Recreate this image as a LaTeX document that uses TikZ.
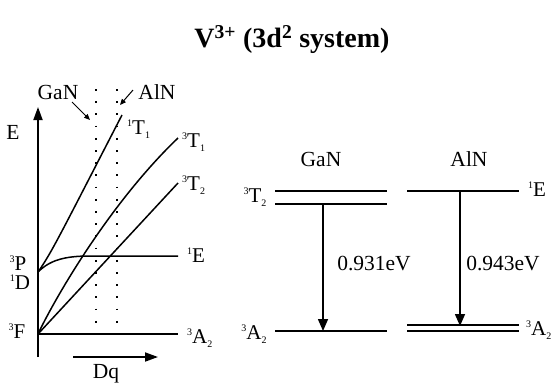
\documentclass[tikz,border=0pt]{standalone}
\usepackage{fontspec}
\setmainfont{Liberation Serif}
\usetikzlibrary{arrows.meta}
\newcommand{\spinterm}[3]{\raisebox{0.4em}{\fontsize{10}{10}\selectfont #1}#2\raisebox{-0.2em}{\fontsize{10}{10}\selectfont #3}}
\tikzset{
  axisline/.style={line width=1.8pt},
  curveline/.style={line width=1.5pt},
  levelline/.style={line width=1.9pt},
  dotline/.style={line width=1.9pt, dash pattern=on 1.7pt off 10.5pt},
  transarrow/.style={line width=1.5pt, -{Triangle[length=12pt,width=10pt]}},
  pointer/.style={line width=1pt, -{Triangle[length=6pt,width=5pt]}},
  lbl/.style={font=\fontsize{21.5}{24}\selectfont, inner sep=0pt},
  statelbl/.style={font=\fontsize{21}{23}\selectfont, inner sep=0pt}
}

\begin{document}
\begin{tikzpicture}[x=1pt, y=-1pt]
  \useasboundingbox (0,0) rectangle (551,384);
  \node[font=\bfseries\fontsize{28}{32}\selectfont] (title) at (292,40) {V\textsuperscript{3+} (3d\textsuperscript{2} system)};

  % left: energy level diagram
  \coordinate (axbot) at (38,357);
  \coordinate (axtop) at (38,107);
  \coordinate (fpt) at (38,334);
  \coordinate (ppt) at (38,272);
  \draw[axisline, -{Triangle[length=13pt,width=9pt]}] (axbot) -- (axtop);
  \node[lbl] (elbl) at (13,132) {E};

  \node[statelbl] (flbl) at (17,333) {\spinterm{3}{F}{}};
  \node[statelbl] (plbl) at (18,265) {\spinterm{3}{P}{}};
  \node[statelbl] (dlbl) at (20,284) {\spinterm{1}{D}{}};

  \node[statelbl, anchor=west] (t1s) at (127,129) {\spinterm{1}{T}{1}};
  \node[statelbl, anchor=west] (t1t) at (182,142) {\spinterm{3}{T}{1}};
  \node[statelbl, anchor=west] (t2t) at (182,185) {\spinterm{3}{T}{2}};
  \node[statelbl, anchor=west] (es) at (187,257) {\spinterm{1}{E}{}};
  \node[statelbl, anchor=west] (a2t) at (187,338) {\spinterm{3}{A}{2}};

  \coordinate (t1send) at (122,115);
  \coordinate (t1tend) at (178,138);
  \coordinate (t2tend) at (178,183);
  \coordinate (esend) at (178,256);
  \coordinate (a2end) at (178,334);

  \draw[curveline] (fpt) -- (a2end);
  \draw[curveline] (fpt) -- (t2tend);
  \draw[curveline] (fpt) .. controls (55,298) and (110,203) .. (t1tend);
  \draw[curveline] (ppt) .. controls (52,252) and (60,235) .. (t1send);
  \draw[curveline] (ppt) .. controls (50,260) and (65,256) .. (90,256) -- (esend);

  % host crystal field positions
  \coordinate (gantop) at (96,89);
  \coordinate (ganbot) at (96,334);
  \coordinate (alntop) at (117,89);
  \coordinate (alnbot) at (117,334);
  \draw[dotline] (gantop) -- (ganbot);
  \draw[dotline] (alntop) -- (alnbot);
  \node[lbl] (ganlbl) at (58,92) {GaN};
  \node[lbl] (alnlbl) at (157,92) {AlN};
  \draw[pointer] (72,102) -- (90,120);
  \draw[pointer] (133,90) -- (120,105);

  \coordinate (dqstart) at (73,357);
  \coordinate (dqend) at (158,357);
  \draw[axisline, -{Triangle[length=13pt,width=9pt]}] (dqstart) -- (dqend);
  \node[lbl] (dqlbl) at (106,374) {Dq};

  % right: transitions
  \node[lbl] (gan) at (321,159) {GaN};
  \node[lbl] (aln) at (469,159) {AlN};

  \coordinate (gtaa) at (275,191);
  \coordinate (gtab) at (387,191);
  \coordinate (gtba) at (275,204);
  \coordinate (gtbb) at (387,204);
  \coordinate (gaa) at (275,331);
  \coordinate (gab) at (387,331);
  \draw[levelline] (gtaa) -- (gtab);
  \draw[levelline] (gtba) -- (gtbb);
  \draw[levelline] (gaa) -- (gab);
  \node[statelbl] (gtlbl) at (255,197) {\spinterm{3}{T}{2}};
  \node[statelbl] (galbl) at (254,334) {\spinterm{3}{A}{2}};
  \draw[transarrow] (323,204) -- (323,331);
  \node[lbl] (genergy) at (374,264) {0.931eV};

  \coordinate (aea) at (407,191);
  \coordinate (aeb) at (519,191);
  \coordinate (aaa) at (407,325);
  \coordinate (aab) at (519,325);
  \coordinate (aba) at (407,331);
  \coordinate (abb) at (519,331);
  \draw[levelline] (aea) -- (aeb);
  \draw[levelline] (aaa) -- (aab);
  \draw[levelline] (aba) -- (abb);
  \node[statelbl] (aelbl) at (537,191) {\spinterm{1}{E}{}};
  \node[statelbl, anchor=west] (aalbl) at (526,330) {\spinterm{3}{A}{2}};
  \draw[transarrow] (460,191) -- (460,326);
  \node[lbl] (aenergy) at (503,264) {0.943eV};
\end{tikzpicture}
\end{document}
